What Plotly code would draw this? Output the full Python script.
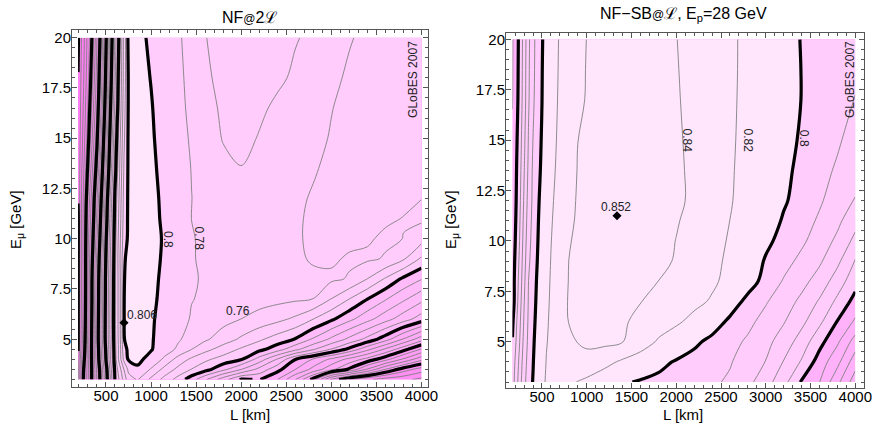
import plotly.graph_objects as go

# ---------------- data: left panel  NF@2L ----------------
L_left = [190, 250, 300, 350, 400, 450, 500, 550, 600, 650, 700, 750, 850, 1000, 1150,
          1300, 1450, 1600, 1800, 2000, 2200, 2400, 2600, 2800, 3000, 3200, 3400, 3600, 3800, 4000]
E_left = [3, 3.5, 4, 4.5, 5, 6, 7, 8, 9, 10, 11, 12, 13.5, 15, 16.5, 18, 20]
Z_left = [
    [0.205, 0.302, 0.355, 0.41, 0.464, 0.521, 0.582, 0.641, 0.701, 0.7225, 0.7475, 0.7725, 0.7815, 0.7552, 0.733, 0.7125, 0.689, 0.6633, 0.629, 0.5975, 0.6015, 0.5805, 0.5405, 0.492, 0.415, 0.38, 0.364, 0.3514, 0.345, 0.335],
    [0.21, 0.298, 0.354, 0.41, 0.466, 0.525, 0.5875, 0.65, 0.705, 0.7314, 0.7605, 0.7845, 0.797, 0.7782, 0.7533, 0.7347, 0.7192, 0.7072, 0.6853, 0.6602, 0.6333, 0.6067, 0.5802, 0.5533, 0.5257, 0.4962, 0.4577, 0.4192, 0.39, 0.37],
    [0.205, 0.287, 0.351, 0.4125, 0.475, 0.5375, 0.6005, 0.659, 0.711, 0.748, 0.7857, 0.802, 0.804, 0.7944, 0.776, 0.7518, 0.736, 0.724, 0.7121, 0.7016, 0.6717, 0.6382, 0.6003, 0.5778, 0.5556, 0.5337, 0.5124, 0.487, 0.4565, 0.426],
    [0.199, 0.279, 0.349, 0.413, 0.477, 0.5416, 0.6057, 0.663, 0.7129, 0.748, 0.794, 0.8035, 0.8055, 0.8012, 0.7896, 0.7765, 0.7601, 0.7464, 0.7313, 0.7172, 0.7061, 0.6894, 0.6659, 0.6424, 0.6189, 0.5949, 0.5657, 0.5365, 0.5073, 0.478],
    [0.198, 0.273, 0.347, 0.413, 0.4805, 0.547, 0.611, 0.667, 0.7143, 0.7508, 0.7995, 0.804, 0.806, 0.8015, 0.7929, 0.7823, 0.7726, 0.7632, 0.75, 0.7367, 0.7233, 0.7112, 0.6989, 0.6773, 0.6558, 0.6347, 0.6135, 0.5886, 0.5583, 0.528],
    [0.198, 0.268, 0.343, 0.411, 0.478, 0.546, 0.611, 0.668, 0.7157, 0.752, 0.7998, 0.804, 0.806, 0.8018, 0.795, 0.7864, 0.7786, 0.7735, 0.7667, 0.7598, 0.7526, 0.7454, 0.736, 0.7199, 0.7035, 0.6852, 0.6664, 0.6476, 0.6288, 0.61],
    [0.198, 0.265, 0.3405, 0.408, 0.476, 0.543, 0.609, 0.667, 0.715, 0.752, 0.7998, 0.804, 0.806, 0.8025, 0.7968, 0.789, 0.7805, 0.778, 0.7745, 0.771, 0.768, 0.7655, 0.763, 0.7599, 0.7395, 0.7198, 0.7002, 0.6819, 0.6638, 0.6457],
    [0.198, 0.264, 0.339, 0.407, 0.474, 0.542, 0.608, 0.6655, 0.715, 0.752, 0.7995, 0.8035, 0.806, 0.803, 0.7976, 0.7895, 0.7815, 0.7785, 0.775, 0.7715, 0.769, 0.7665, 0.7645, 0.763, 0.7635, 0.7585, 0.7398, 0.7177, 0.6962, 0.681],
    [0.198, 0.2656, 0.3367, 0.4005, 0.4667, 0.5347, 0.6035, 0.6616, 0.714, 0.7549, 0.7985, 0.8035, 0.806, 0.8045, 0.798, 0.79, 0.7815, 0.7765, 0.7715, 0.768, 0.765, 0.7635, 0.7625, 0.7585, 0.757, 0.7625, 0.763, 0.7585, 0.7425, 0.7165],
    [0.197, 0.266, 0.333, 0.392, 0.457, 0.524, 0.596, 0.657, 0.711, 0.752, 0.792, 0.803, 0.806, 0.805, 0.7985, 0.789, 0.7815, 0.776, 0.771, 0.768, 0.766, 0.7645, 0.7625, 0.7565, 0.7545, 0.755, 0.758, 0.763, 0.7598, 0.7477],
    [0.197, 0.264, 0.328, 0.383, 0.447, 0.514, 0.586, 0.65, 0.708, 0.748, 0.789, 0.803, 0.806, 0.8045, 0.7975, 0.789, 0.7798, 0.7745, 0.7695, 0.767, 0.766, 0.7648, 0.7625, 0.757, 0.7545, 0.7535, 0.7545, 0.7575, 0.7605, 0.7635],
    [0.201, 0.262, 0.3205, 0.376, 0.437, 0.504, 0.578, 0.644, 0.704, 0.745, 0.787, 0.803, 0.806, 0.804, 0.797, 0.7885, 0.7802, 0.774, 0.768, 0.766, 0.7655, 0.765, 0.763, 0.7585, 0.755, 0.753, 0.752, 0.753, 0.7565, 0.7598],
    [0.203, 0.255, 0.305, 0.358, 0.414, 0.483, 0.556, 0.626, 0.691, 0.738, 0.782, 0.803, 0.806, 0.803, 0.7956, 0.7874, 0.7795, 0.772, 0.7645, 0.7605, 0.763, 0.766, 0.7665, 0.7615, 0.7565, 0.7535, 0.751, 0.751, 0.752, 0.754],
    [0.203, 0.247, 0.291, 0.342, 0.395, 0.464, 0.538, 0.613, 0.6805, 0.732, 0.777, 0.803, 0.806, 0.802, 0.794, 0.786, 0.778, 0.7695, 0.759, 0.755, 0.761, 0.765, 0.767, 0.764, 0.759, 0.755, 0.752, 0.751, 0.752, 0.753],
    [0.201, 0.242, 0.282, 0.329, 0.381, 0.446, 0.521, 0.599, 0.665, 0.723, 0.773, 0.802, 0.806, 0.801, 0.793, 0.785, 0.776, 0.7665, 0.757, 0.753, 0.757, 0.763, 0.766, 0.765, 0.7605, 0.756, 0.753, 0.751, 0.751, 0.752],
    [0.2005, 0.237, 0.274, 0.316, 0.37, 0.433, 0.508, 0.587, 0.655, 0.717, 0.769, 0.802, 0.806, 0.7995, 0.792, 0.784, 0.7746, 0.7625, 0.756, 0.752, 0.753, 0.757, 0.7625, 0.765, 0.763, 0.758, 0.755, 0.752, 0.751, 0.751],
    [0.197, 0.233, 0.268, 0.305, 0.3605, 0.4205, 0.495, 0.575, 0.645, 0.71, 0.768, 0.805, 0.805, 0.797, 0.79, 0.7825, 0.773, 0.7605, 0.755, 0.752, 0.752, 0.754, 0.759, 0.763, 0.764, 0.761, 0.757, 0.753, 0.751, 0.75],
]

# ---------------- data: right panel  NF-SB@L, Ep = 28 GeV ----------------
L_right = [170, 250, 300, 350, 400, 450, 500, 550, 600, 700, 800, 900, 1000, 1200, 1400,
           1600, 1800, 2000, 2200, 2400, 2600, 2800, 3000, 3200, 3400, 3600, 3800, 4000]
E_right = [3, 4, 5, 6, 7, 8, 9, 10, 11, 12, 13.5, 15, 17, 18.5, 20]
Z_right = [
    [0.755, 0.7753, 0.7876, 0.7947, 0.8006, 0.8087, 0.8168, 0.8215, 0.8235, 0.8255, 0.8235, 0.8193, 0.8157, 0.8087, 0.8017, 0.7986, 0.7968, 0.795, 0.7932, 0.7914, 0.7887, 0.7827, 0.7741, 0.7634, 0.7489, 0.7402, 0.7226, 0.7045],
    [0.7535, 0.7727, 0.7856, 0.7937, 0.7994, 0.8068, 0.8143, 0.8206, 0.8254, 0.831, 0.8345, 0.8362, 0.8345, 0.8255, 0.817, 0.8104, 0.8037, 0.7988, 0.7961, 0.7934, 0.7907, 0.7857, 0.7797, 0.7695, 0.759, 0.7456, 0.733, 0.7144],
    [0.7505, 0.7697, 0.7832, 0.7925, 0.7983, 0.805, 0.8121, 0.8193, 0.8228, 0.8289, 0.835, 0.8404, 0.843, 0.8445, 0.8405, 0.8295, 0.8179, 0.8101, 0.8022, 0.7971, 0.793, 0.7886, 0.7829, 0.7755, 0.7656, 0.7533, 0.7417, 0.7256],
    [0.7483, 0.7676, 0.7812, 0.7916, 0.7972, 0.8035, 0.8105, 0.8175, 0.8232, 0.8332, 0.8405, 0.8445, 0.847, 0.848, 0.8425, 0.8351, 0.8289, 0.8228, 0.8149, 0.8056, 0.7978, 0.7924, 0.7867, 0.7807, 0.7726, 0.7622, 0.7496, 0.7384],
    [0.7452, 0.7651, 0.7794, 0.7908, 0.7963, 0.8023, 0.8092, 0.8161, 0.8223, 0.8328, 0.8412, 0.8452, 0.8478, 0.8495, 0.8482, 0.8405, 0.8352, 0.8298, 0.8245, 0.8181, 0.8059, 0.7969, 0.7909, 0.7847, 0.7778, 0.7689, 0.7578, 0.7466],
    [0.7455, 0.7634, 0.7777, 0.7901, 0.7956, 0.8014, 0.8082, 0.8151, 0.8215, 0.8321, 0.8405, 0.8445, 0.8472, 0.8502, 0.8505, 0.847, 0.8399, 0.8343, 0.8286, 0.8229, 0.815, 0.805, 0.7963, 0.7892, 0.7831, 0.7759, 0.7652, 0.7537],
    [0.7447, 0.7617, 0.776, 0.7882, 0.7947, 0.8003, 0.8071, 0.8139, 0.8205, 0.8308, 0.8401, 0.8435, 0.8467, 0.8507, 0.8515, 0.8495, 0.8452, 0.8383, 0.8314, 0.8245, 0.8167, 0.8074, 0.7989, 0.7933, 0.7876, 0.7815, 0.7723, 0.7593],
    [0.7435, 0.7601, 0.7743, 0.7865, 0.7938, 0.7994, 0.806, 0.8128, 0.8195, 0.8293, 0.839, 0.8425, 0.846, 0.851, 0.8521, 0.8505, 0.8465, 0.8396, 0.8327, 0.8257, 0.8184, 0.8105, 0.8024, 0.7965, 0.7917, 0.7855, 0.7779, 0.7673],
    [0.7425, 0.7588, 0.7729, 0.7852, 0.793, 0.7986, 0.8051, 0.8117, 0.8184, 0.8282, 0.8376, 0.8415, 0.845, 0.8507, 0.8522, 0.851, 0.8478, 0.8414, 0.8343, 0.8271, 0.8199, 0.8127, 0.8056, 0.7989, 0.7939, 0.7887, 0.7823, 0.7733],
    [0.7418, 0.7576, 0.7714, 0.7839, 0.7922, 0.7978, 0.8039, 0.8105, 0.8171, 0.8271, 0.8361, 0.8412, 0.8445, 0.8502, 0.852, 0.8508, 0.848, 0.8441, 0.8359, 0.8285, 0.8211, 0.8143, 0.8079, 0.8012, 0.7961, 0.7912, 0.7855, 0.7796],
    [0.7417, 0.7562, 0.7694, 0.7822, 0.7917, 0.7964, 0.8021, 0.8086, 0.8151, 0.8253, 0.834, 0.8406, 0.8437, 0.849, 0.851, 0.8498, 0.8472, 0.8435, 0.8359, 0.8288, 0.8216, 0.8151, 0.8088, 0.8025, 0.7974, 0.7933, 0.7887, 0.7828],
    [0.741, 0.7549, 0.7676, 0.7808, 0.7902, 0.7955, 0.801, 0.8074, 0.8137, 0.824, 0.832, 0.8399, 0.8425, 0.8475, 0.8492, 0.8482, 0.8458, 0.8425, 0.8357, 0.8289, 0.822, 0.8158, 0.8099, 0.8039, 0.7987, 0.795, 0.7913, 0.7861],
    [0.7397, 0.7532, 0.7654, 0.7789, 0.7885, 0.7946, 0.7999, 0.8056, 0.8125, 0.8227, 0.8293, 0.836, 0.8412, 0.8455, 0.8472, 0.8462, 0.8442, 0.8414, 0.8354, 0.8289, 0.8223, 0.8164, 0.8109, 0.8053, 0.7998, 0.7965, 0.7931, 0.7897],
    [0.7394, 0.7527, 0.7649, 0.7784, 0.7879, 0.7941, 0.7996, 0.8056, 0.8117, 0.8221, 0.8286, 0.8351, 0.8408, 0.8445, 0.8458, 0.8448, 0.843, 0.8408, 0.8353, 0.8291, 0.8225, 0.8166, 0.8103, 0.8051, 0.7998, 0.797, 0.7943, 0.7915],
    [0.7392, 0.7523, 0.7643, 0.7778, 0.7875, 0.7938, 0.7991, 0.805, 0.811, 0.8216, 0.8279, 0.8342, 0.8403, 0.8435, 0.8445, 0.8435, 0.842, 0.8403, 0.8349, 0.8288, 0.8226, 0.8166, 0.8106, 0.8047, 0.7995, 0.7972, 0.7948, 0.7925],
]

# optimum points
max_left = dict(L=700, E=5.82, label="0.806")
max_right = dict(L=1338, E=11.25, label="0.852")

# contour labels: (L, E, text, angle)
labels_left = [(1187, 9.94, "0.8", 90), (1534, 10.0, "0.78", 90), (1960, 6.42, "0.76", 0)]
labels_right = [(2116, 15.0, "0.84", 90), (2798, 15.0, "0.82", 90), (3430, 15.1, "0.8", 90)]

# band colours (lowest band first)
fill_left = ["#ff70f2", "#ff80f4", "#ff8ff5", "#ff9df7", "#ffabf8", "#ffbafa", "#ffccfc", "#ffe6fd"]
fill_right = ["#ff99f6", "#ffb2f9", "#ffccfc", "#ffe6fd"]

FONT = "Liberation Sans, Arial, sans-serif"
W, H = 873, 426


def px(x):
    return x / W


def py(y):
    return 1 - y / H


fig = go.Figure()


def panel(L, E, Z, xa, ya, fill, fill_rng, thin_sets, thick_rng):
    n = len(fill) - 1
    fig.add_trace(go.Contour(
        x=L, y=E, z=Z, xaxis=xa, yaxis=ya, showscale=False, hoverinfo="skip",
        contours=dict(coloring="fill", start=fill_rng[0], end=fill_rng[1], size=fill_rng[2],
                      showlines=False),
        colorscale=[[k / n, c] for k, c in enumerate(fill)],
        line=dict(width=0, smoothing=1)))
    for s, e, d in thin_sets:
        fig.add_trace(go.Contour(
            x=L, y=E, z=Z, xaxis=xa, yaxis=ya, showscale=False, hoverinfo="skip",
            contours=dict(coloring="none", start=s, end=e, size=d),
            line=dict(color="#808080", width=0.9, smoothing=1)))
    fig.add_trace(go.Contour(
        x=L, y=E, z=Z, xaxis=xa, yaxis=ya, showscale=False, hoverinfo="skip",
        contours=dict(coloring="none", start=thick_rng[0], end=thick_rng[1], size=thick_rng[2]),
        line=dict(color="black", width=3.2, smoothing=1)))


panel(L_left, E_left, Z_left, "x", "y", fill_left, (0.2, 0.8, 0.1),
      [(0.2, 0.78, 0.02)], (0.2, 0.8, 0.1))
panel(L_right, E_right, Z_right, "x2", "y2", fill_right, (0.7, 0.8, 0.05),
      [(0.70, 0.79, 0.01), (0.82, 0.84, 0.02)], (0.75, 0.8, 0.05))

for m, xa, ya in [(max_left, "x", "y"), (max_right, "x2", "y2")]:
    fig.add_trace(go.Scatter(x=[m["L"]], y=[m["E"]], xaxis=xa, yaxis=ya, mode="markers",
                             marker=dict(symbol="diamond", size=7, color="black"),
                             hoverinfo="skip", showlegend=False))


def txt(x, y, t, xref, yref, size=12, angle=0, color="#222"):
    return dict(x=x, y=y, xref=xref, yref=yref, text=t, textangle=angle, showarrow=False,
                xanchor="center", yanchor="middle",
                font=dict(size=size, color=color, family=FONT))


ann = []
for (x, y, t, a) in labels_left:
    ann.append(txt(x, y, t, "x", "y", angle=a))
for (x, y, t, a) in labels_right:
    ann.append(txt(x, y, t, "x2", "y2", angle=a))
ann.append(txt(896, 6.21, max_left["label"], "x", "y"))
ann.append(txt(1327, 11.7, max_right["label"], "x2", "y2"))
ann.append(txt(3907, 17.9, "GLoBES 2007", "x", "y", angle=-90))
ann.append(txt(3933, 18.0, "GLoBES 2007", "x2", "y2", angle=-90))
# titles
ann.append(txt(px(250), py(18), "NF<span style='font-size:12px'>@</span>2ℒ",
               "paper", "paper", size=16, color="black"))
ann.append(txt(px(683), py(15),
               "NF−SB<span style='font-size:12px'>@</span>ℒ, E<sub>p</sub>=28 GeV",
               "paper", "paper", size=16, color="black"))
# axis titles
for xc in (250, 683):
    ann.append(txt(px(xc), py(414), "L [km]", "paper", "paper", size=15, color="black"))
for xc in (16, 451):
    ann.append(txt(px(xc), py(220), "E<sub>μ</sub> [GeV]", "paper", "paper",
                   size=15, angle=-90, color="black"))

axcommon = dict(showgrid=False, zeroline=False, showline=True, linecolor="#555", linewidth=1,
                mirror="ticks", ticks="inside", ticklen=5, tickwidth=1, tickcolor="#555",
                automargin=False, ticklabeloverflow="allow",
                tickfont=dict(size=15, color="black", family=FONT))
xcommon = dict(axcommon, tick0=0, dtick=500, ticklabelstandoff=-5,
               minor=dict(ticks="inside", ticklen=3, dtick=100, tickcolor="#555"))
ycommon = dict(axcommon, tick0=0, dtick=2.5, ticklabelstandoff=-3,
               minor=dict(ticks="inside", ticklen=3, dtick=0.5, tickcolor="#555"))

fig.update_layout(
    width=W, height=H, margin=dict(l=0, r=0, t=0, b=0, autoexpand=False),
    paper_bgcolor="white", plot_bgcolor="white", showlegend=False,
    font=dict(family=FONT),
    xaxis=dict(xcommon, domain=[px(72), px(428)], range=[123, 4073], anchor="y"),
    yaxis=dict(ycommon, domain=[py(386.7), py(30)], range=[2.64, 20.38], anchor="x"),
    xaxis2=dict(xcommon, domain=[px(506), px(863.7)], range=[98, 4094], anchor="y2"),
    yaxis2=dict(ycommon, domain=[py(388.3), py(32.7)], range=[2.69, 20.33], anchor="x2"),
    annotations=ann,
)

# the page body has a default 8 px margin; remove it so the figure fills the window
fig.write_html("out.html",
               config={"displayModeBar": False},
               post_script="document.body.style.margin='0';"
                           "document.documentElement.style.overflow='hidden';")
